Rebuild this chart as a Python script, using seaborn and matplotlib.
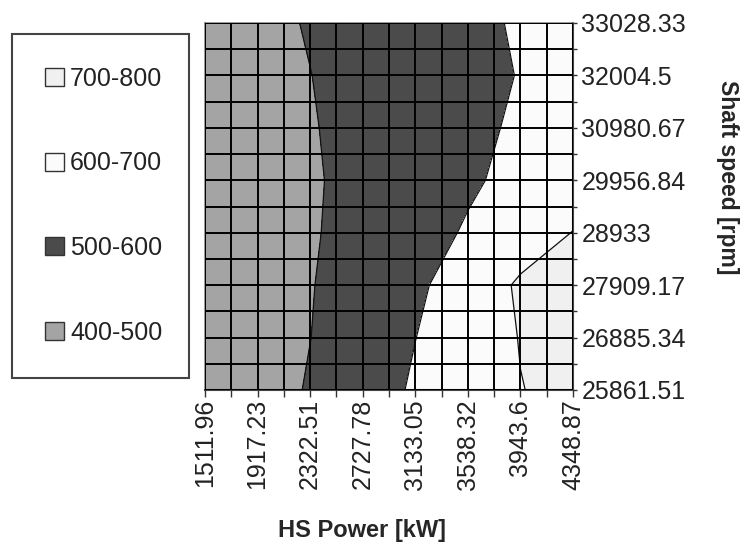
import numpy as np
import matplotlib
matplotlib.use("Agg")
import matplotlib.pyplot as plt
from matplotlib.patches import Patch
import seaborn as sns

# HS power ticks (kW) and shaft speed ticks (rpm)
power_kw = [1511.96, 1917.23, 2322.51, 2727.78, 3133.05, 3538.32, 3943.6, 4348.87]
speed_rpm = [25861.51, 26885.34, 27909.17, 28933, 29956.84, 30980.67, 32004.5, 33028.33]
power_labels = ["1511.96", "1917.23", "2322.51", "2727.78", "3133.05", "3538.32", "3943.6", "4348.87"]
speed_labels = ["25861.51", "26885.34", "27909.17", "28933", "29956.84", "30980.67", "32004.5", "33028.33"]

# estimated values, one row per speed (bottom -> top), one column per power
row_25861 = [403, 455, 508, 555, 611, 654, 698, 720]
row_26885 = [420, 460, 499, 550, 599, 650, 703, 720]
row_27909 = [407, 451, 496, 540, 584, 644, 712, 725]
row_28933 = [415, 454, 492, 530, 568, 608, 655, 702]
row_29956 = [425, 458, 491, 524, 556, 589, 622, 655]
row_30980 = [437, 466, 495, 524, 553, 582, 611, 640]
row_32004 = [447, 473, 499, 525, 551, 577, 603, 629]
row_33028 = [454, 480, 505, 531, 556, 582, 608, 633]

levels = [400, 500, 600, 700, 800]
band_labels = ["400-500", "500-600", "600-700", "700-800"]
band_colors = ["#a4a4a4", "#4b4b4b", "#fbfbfb", "#f0f0f0"]

sns.set_style("white")
plt.rcParams["font.family"] = ["Liberation Sans", "DejaVu Sans"]

Z = np.array([row_25861, row_26885, row_27909, row_28933,
              row_29956, row_30980, row_32004, row_33028])
X, Y = np.meshgrid(power_kw, speed_rpm)

fig = plt.figure(figsize=(7.47, 5.47), dpi=100)
ax = fig.add_axes([205 / 747, 1 - 390 / 547, 368 / 747, 367 / 547])

ax.contourf(X, Y, Z, levels=levels, colors=band_colors, zorder=1)
ax.contour(X, Y, Z, levels=levels[1:4], colors="#111111", linewidths=0.9, zorder=2)

ax.set_xlim(power_kw[0], power_kw[-1])
ax.set_ylim(speed_rpm[0], speed_rpm[-1])

ax.set_xticks(power_kw)
ax.set_xticklabels(power_labels, rotation=90, fontsize=18, color="#222222")
ax.set_xticks([(a + b) / 2 for a, b in zip(power_kw[:-1], power_kw[1:])], minor=True)

ax.yaxis.tick_right()
ax.set_yticks(speed_rpm)
ax.set_yticklabels(speed_labels, fontsize=18, color="#222222")
ax.set_yticks([(a + b) / 2 for a, b in zip(speed_rpm[:-1], speed_rpm[1:])], minor=True)

ax.set_axisbelow(False)
ax.grid(which="both", color="black", linewidth=1.4, zorder=3)
ax.tick_params(axis="x", which="both", bottom=True, top=False, length=5,
               width=1, color="#333333", pad=1.5)
ax.tick_params(axis="y", which="both", right=True, left=False, length=3,
               width=1, color="#333333", pad=3)

for side in ["top", "left"]:
    ax.spines[side].set_color("#888888")
    ax.spines[side].set_linewidth(1.2)
for side in ["right", "bottom"]:
    ax.spines[side].set_color("#444444")
    ax.spines[side].set_linewidth(1.5)

fig.text(362 / 747, 1 - 530 / 547, "HS Power [kW]", fontsize=17,
         fontweight="bold", ha="center", va="center")
fig.text(728 / 747, 1 - 177 / 547, "Shaft speed [rpm]", fontsize=16.5,
         fontweight="bold", ha="center", va="center", rotation=270)

handles = [Patch(facecolor=c, edgecolor="#333333", linewidth=1) for c in band_colors][::-1]
leg = fig.legend(handles, band_labels[::-1],
                 loc="upper left",
                 bbox_to_anchor=(12 / 747, 1 - 34 / 547, 177 / 747, 0.0),
                 mode="expand", borderaxespad=0, fontsize=18,
                 labelspacing=2.42, borderpad=1.32,
                 handlelength=0.75, handleheight=0.75, handletextpad=0.25,
                 fancybox=False, framealpha=1, edgecolor="#444444")
leg.get_frame().set_linewidth(1.5)
for t in leg.get_texts():
    t.set_color("#222222")

fig.savefig("out.png", dpi=100)
